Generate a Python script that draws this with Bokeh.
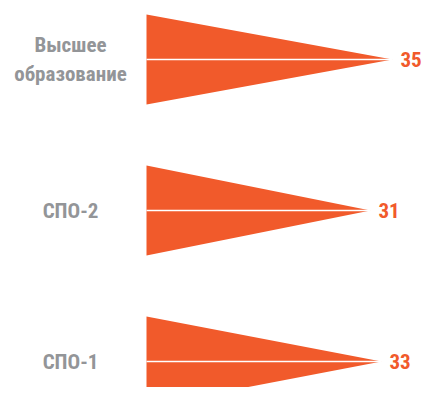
from bokeh.plotting import figure
from bokeh.models import ColumnDataSource, Range1d
from bokeh.core.properties import value
from bokeh.embed import file_html
from bokeh.resources import INLINE

# ---- data ----
categories = ["Высшее\nобразование", "СПО-2", "СПО-1"]
values = [35, 31, 33]
value_labels = [str(v) for v in values]

# ---- style / layout ----
ORANGE = "#F15A2B"
GRAY = "#939598"
FONT = "'Liberation Sans Narrow', 'Noto Sans Condensed', 'Roboto Condensed', 'DejaVu Sans Condensed', sans-serif"

W, H = 423, 387
PX_PER_UNIT = 5.5
X_START = -36.27          # data value at left edge of plot
BASE = -9.72              # data value where every arrow starts
LABEL_X = -23.54          # centre of category labels
ROW_PX = 151.0            # pixel distance between rows
HALF = 45.0 / ROW_PX      # half height of an arrow (row units)
TOP_PAD = 59.0 / ROW_PX

idx = list(range(len(categories)))
n = len(categories)
y_bottom = (H / ROW_PX) - TOP_PAD

src = ColumnDataSource(dict(
    xs=[[BASE, v, BASE] for v in values],
    ys=[[i - HALF, i, i + HALF] for i in idx],
    base=[BASE] * n,
    val=values,
    y=idx,
    cat=categories,
    lab=value_labels,
    lx=[LABEL_X] * n,
))

p = figure(width=W, height=H,
           x_range=Range1d(X_START, X_START + W / PX_PER_UNIT),
           y_range=Range1d(start=y_bottom, end=-TOP_PAD),
           output_backend="svg", toolbar_location=None,
           x_axis_location=None, y_axis_location=None,
           min_border=0, min_border_left=0, min_border_right=0,
           min_border_top=0, min_border_bottom=0,
           outline_line_color=None, background_fill_color="white",
           border_fill_color="white")
p.grid.visible = False

p.patches("xs", "ys", source=src, fill_color=ORANGE, line_color=None)
p.segment(x0="base", y0="y", x1="val", y1="y", source=src,
          line_color="white", line_width=1.5)

p.text(x="lx", y="y", text="cat", source=src,
       text_align="center", text_baseline="middle",
       text_font=value(FONT), text_font_style="bold",
       text_font_size="21px", text_color=GRAY, text_line_height=1.2)

p.text(x="val", y="y", text="lab", source=src, x_offset=8,
       text_align="left", text_baseline="middle",
       text_font=value(FONT), text_font_style="bold",
       text_font_size="21px", text_color=ORANGE)

open("out.html", "w").write(file_html(p, INLINE))
